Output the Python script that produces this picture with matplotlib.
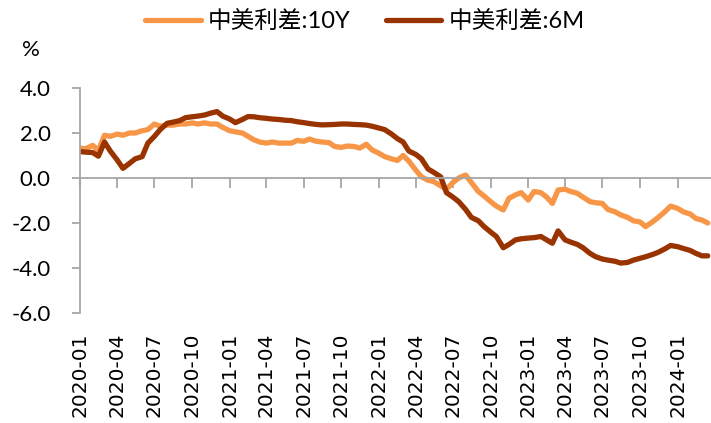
import matplotlib
matplotlib.use("Agg")
import matplotlib.pyplot as plt
import matplotlib.dates as mdates
import pandas as pd

plt.rcParams["font.family"] = ["Lato", "Noto Sans CJK SC", "DejaVu Sans"]

# semi-monthly observations, 2020-01 .. 2024-03
dates = pd.date_range("2020-01-01", periods=102, freq="SMS")

spread_10y = [
    1.33, 1.30, 1.45, 1.22, 1.90, 1.85, 1.95, 1.90, 2.00, 2.00,
    2.10, 2.15, 2.40, 2.30, 2.35, 2.35, 2.40, 2.40, 2.45, 2.40,
    2.45, 2.40, 2.40, 2.25, 2.10, 2.05, 2.00, 1.85, 1.70, 1.60,
    1.55, 1.60, 1.55, 1.55, 1.55, 1.67, 1.63, 1.73, 1.63, 1.60,
    1.57, 1.40, 1.36, 1.42, 1.40, 1.33, 1.50, 1.25, 1.10, 0.95,
    0.85, 0.78, 1.00, 0.75, 0.35, 0.05, -0.10, -0.16, -0.35, -0.50,
    -0.20, 0.00, 0.13, -0.20, -0.60, -0.80, -1.05, -1.25, -1.42, -0.90,
    -0.75, -0.65, -0.98, -0.60, -0.65, -0.85, -1.13, -0.53, -0.50, -0.60,
    -0.68, -0.85, -1.05, -1.10, -1.13, -1.40, -1.50, -1.64, -1.75, -1.90,
    -1.95, -2.16, -1.95, -1.75, -1.50, -1.25, -1.35, -1.50, -1.60, -1.80,
    -1.87, -2.00,
]

spread_6m = [
    1.17, 1.15, 1.13, 0.97, 1.60, 1.20, 0.80, 0.43, 0.65, 0.85,
    0.95, 1.55, 1.85, 2.15, 2.43, 2.48, 2.55, 2.68, 2.72, 2.75,
    2.80, 2.88, 2.95, 2.75, 2.62, 2.46, 2.60, 2.73, 2.72, 2.68,
    2.65, 2.62, 2.60, 2.57, 2.55, 2.50, 2.46, 2.42, 2.38, 2.36,
    2.37, 2.38, 2.40, 2.40, 2.38, 2.37, 2.35, 2.30, 2.22, 2.15,
    1.95, 1.75, 1.60, 1.20, 1.05, 0.85, 0.40, 0.25, 0.05, -0.65,
    -0.85, -1.05, -1.40, -1.75, -1.90, -2.16, -2.40, -2.60, -3.10, -2.95,
    -2.75, -2.70, -2.67, -2.65, -2.60, -2.75, -2.90, -2.35, -2.75, -2.85,
    -2.95, -3.10, -3.35, -3.50, -3.60, -3.65, -3.70, -3.78, -3.75, -3.65,
    -3.57, -3.50, -3.40, -3.30, -3.15, -3.00, -3.05, -3.13, -3.22, -3.35,
    -3.46, -3.46,
]

series_names = ["中美利差:10Y", "中美利差:6M"]
series_colors = ["#F79646", "#993300"]

grey = "#a6a6a6"

fig = plt.figure(figsize=(7.11, 4.23), dpi=100)
ax = fig.add_axes([0.1125, 0.26, 0.887, 0.532])

for vals, name, color in zip([spread_10y, spread_6m], series_names, series_colors):
    ax.plot(dates, vals, color=color, lw=3.8, label=name, solid_capstyle="round")

yticks = [4, 2, 0, -2, -4, -6]
ax.set_ylim(-6, 4)
ax.set_yticks(yticks)
ax.set_yticklabels([f"{v:.1f}" for v in yticks])
ax.set_xlim(pd.Timestamp("2020-01-01"), pd.Timestamp("2024-03-22"))

ticks = pd.date_range("2020-01-01", "2024-01-01", freq="QS")

for s in ["top", "right"]:
    ax.spines[s].set_visible(False)
ax.spines["left"].set_color(grey)
ax.spines["left"].set_linewidth(1.3)
ax.spines["bottom"].set_position(("data", 0))
ax.spines["bottom"].set_color(grey)
ax.spines["bottom"].set_linewidth(1.3)

ax.set_xticks(ticks)
ax.tick_params(axis="x", direction="out", length=7, width=1.3, color=grey,
               labelbottom=False)
ax.tick_params(axis="y", direction="out", length=6, width=1.3, color=grey,
               labelsize=16, pad=15)

# date labels sit under the plot area, not on the zero line
sec = ax.secondary_xaxis(0)
sec.set_xticks(ticks)
sec.xaxis.set_major_formatter(mdates.DateFormatter("%Y-%m"))
sec.spines["bottom"].set_visible(False)
sec.tick_params(axis="x", length=0, labelsize=14.5, labelrotation=90, pad=14)
for lbl in sec.get_xticklabels():
    lbl.set_family("DejaVu Sans")

fig.text(0.031, 0.882, "%", fontsize=16, ha="left", va="center")

fig.legend(loc="center", bbox_to_anchor=(0.513, 0.949), ncol=2, frameon=False,
           fontsize=17, handlelength=2.35, columnspacing=1.5, handletextpad=0.3)

fig.savefig("out.png", dpi=100)
